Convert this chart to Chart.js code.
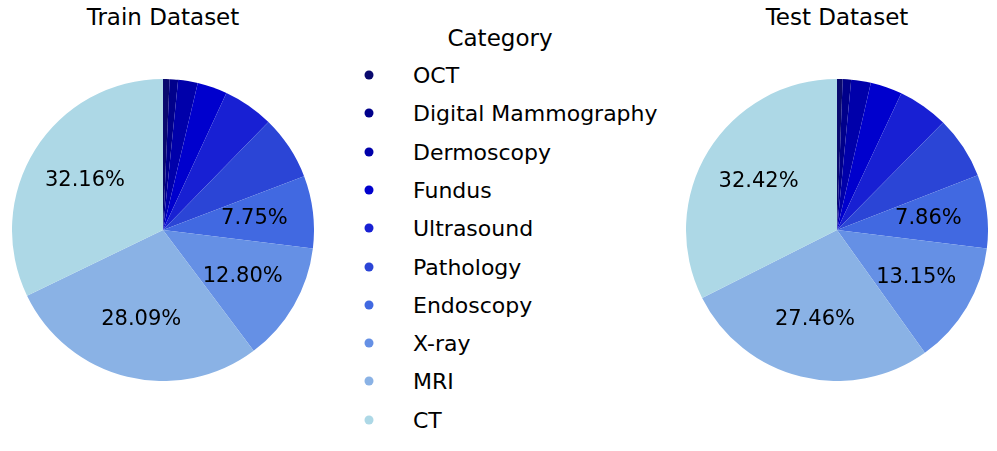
<!DOCTYPE html>
<html>
<head>
<meta charset="utf-8">
<script src="https://cdn.jsdelivr.net/npm/chart.js@4"></script>
<style>
    body { margin: 0; background: #fff; width: 997px; height: 451px; position: relative; overflow: hidden;
           font-family: "Comic Sans MS", "DejaVu Sans", sans-serif; color: #000; }
    .title { position: absolute; font-size: 23px; transform: translate(-50%, -50%); white-space: nowrap; }
    .pie { position: absolute; width: 302px; height: 302px; }
    .legend-item { position: absolute; left: 0; font-size: 22px; white-space: nowrap; transform: translateY(-50%); }
    .dot { position: absolute; width: 9px; height: 9px; border-radius: 50%; transform: translate(-50%, -50%); }
</style>
</head>
<body>
<div class="title" style="left:163px; top:17px;">Train Dataset</div>
<div class="title" style="left:837px; top:17px;">Test Dataset</div>
<div class="title" style="left:500px; top:38px;">Category</div>
<div id="legend"></div>
<div class="pie" style="left:12px; top:79px;"><canvas id="trainChart"></canvas></div>
<div class="pie" style="left:686px; top:79px;"><canvas id="testChart"></canvas></div>
<script>
// Category order and colours (clockwise from 12 o'clock)
const categories = ['OCT', 'Digital Mammography', 'Dermoscopy', 'Fundus', 'Ultrasound',
                    'Pathology', 'Endoscopy', 'X-ray', 'MRI', 'CT'];
const colors = ['#0a0a6e', '#00008b', '#0000aa', '#0000cd', '#1820d3',
                '#2b45d6', '#4169e1', '#6590e5', '#8ab2e5', '#add8e6'];

// Share of each category in percent
const trainValues = [0.7, 0.9, 2.1, 3.2, 5.4, 6.9, 7.75, 12.80, 28.09, 32.16];
const testValues = [0.6, 0.9, 2.1, 3.4, 5.4, 6.7, 7.86, 13.15, 27.46, 32.42];

const LABEL_MIN = 7; // only slices above this get a % label

// Draw percentage labels inside slices
const pctLabels = {
    id: 'pctLabels',
    afterDatasetsDraw(chart) {
        const ctx = chart.ctx;
        const meta = chart.getDatasetMeta(0);
        const values = chart.data.datasets[0].data;
        ctx.save();
        ctx.fillStyle = '#000';
        ctx.font = '21px "Comic Sans MS", "DejaVu Sans", sans-serif';
        ctx.textAlign = 'center';
        ctx.textBaseline = 'middle';
        meta.data.forEach((arc, i) => {
            if (values[i] < LABEL_MIN) return;
            const mid = (arc.startAngle + arc.endAngle) / 2;
            const r = arc.outerRadius * 0.61;
            ctx.fillText(values[i].toFixed(2) + '%', arc.x + Math.cos(mid) * r, arc.y + Math.sin(mid) * r);
        });
        ctx.restore();
    }
};

function makePie(id, values) {
    return new Chart(document.getElementById(id), {
        type: 'pie',
        data: {
            labels: categories,
            datasets: [{
                data: values,
                backgroundColor: colors,
                borderWidth: 0,
                hoverOffset: 0
            }]
        },
        options: {
            responsive: true,
            maintainAspectRatio: false,
            animation: false,
            layout: { padding: 0 },
            plugins: {
                legend: { display: false },
                tooltip: { enabled: false }
            }
        },
        plugins: [pctLabels]
    });
}

makePie('trainChart', trainValues);
makePie('testChart', testValues);

// Build the legend column
const legend = document.getElementById('legend');
categories.forEach((name, i) => {
    const y = 75 + i * 38.3;
    const dot = document.createElement('div');
    dot.className = 'dot';
    dot.style.left = '369px';
    dot.style.top = y + 'px';
    dot.style.background = colors[i];
    legend.appendChild(dot);
    const label = document.createElement('div');
    label.className = 'legend-item';
    label.style.left = '413px';
    label.style.top = y + 'px';
    label.textContent = name;
    legend.appendChild(label);
});
</script>
</body>
</html>
